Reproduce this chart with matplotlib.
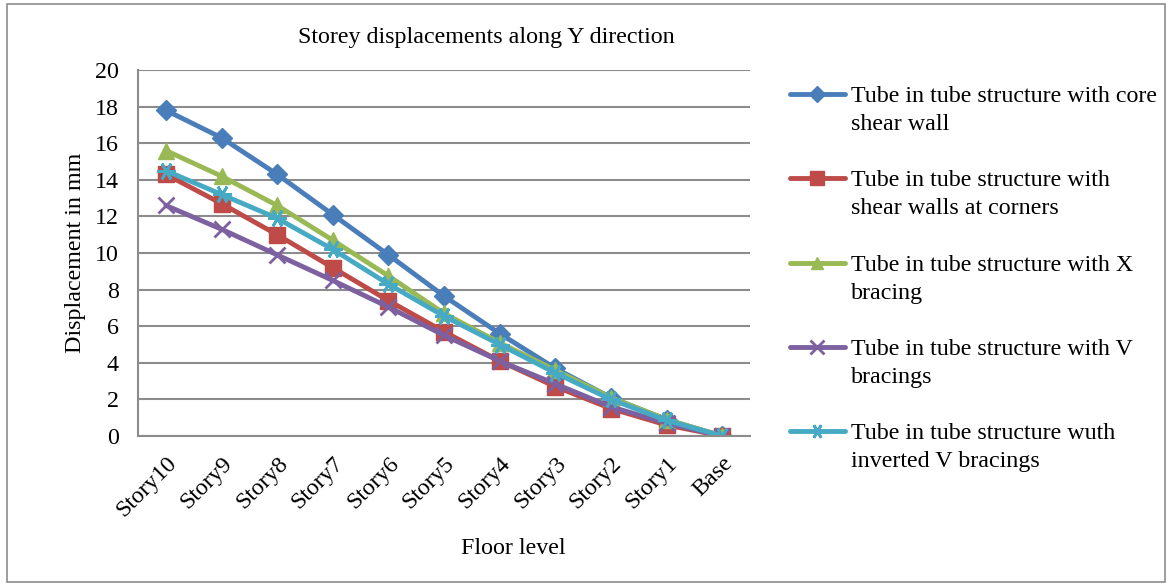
import matplotlib
matplotlib.use("Agg")
import matplotlib.pyplot as plt
from matplotlib.lines import Line2D
from matplotlib.patches import Rectangle

# --- data ----------------------------------------------------------------------------------------
floors = ["Story10", "Story9", "Story8", "Story7", "Story6", "Story5",
          "Story4", "Story3", "Story2", "Story1", "Base"]

core_wall    = [17.8, 16.3, 14.3, 12.1, 9.9, 7.65, 5.6, 3.7, 2.1, 0.9, 0.0]
corner_walls = [14.3, 12.7, 11.0, 9.2, 7.4, 5.7, 4.1, 2.7, 1.5, 0.6, 0.0]
x_bracing    = [15.6, 14.2, 12.6, 10.7, 8.75, 6.7, 5.1, 3.6, 2.1, 0.9, 0.0]
v_bracing    = [12.6, 11.3, 9.9, 8.5, 7.05, 5.5, 4.1, 2.85, 1.6, 0.7, 0.0]
inv_v_brac   = [14.5, 13.2, 11.9, 10.2, 8.3, 6.55, 5.0, 3.45, 2.0, 0.85, 0.0]

labels = ["Tube in tube structure with core\nshear wall",
          "Tube in tube structure with\nshear walls at corners",
          "Tube in tube structure with X\nbracing",
          "Tube in tube structure with V\nbracings",
          "Tube in tube structure wuth\ninverted V bracings"]

series  = [core_wall, corner_walls, x_bracing, v_bracing, inv_v_brac]
colors  = ["#4A7EBB", "#BE4B48", "#98B954", "#7D60A0", "#46AAC5"]
markers = ["D", "s", "^", "x", (6, 2, 90)]
msizes  = [10, 12, 11, 12, 13]

plt.rcParams["font.family"] = ["Liberation Serif", "DejaVu Serif"]
FS = 17.3

fig = plt.figure(figsize=(11.68, 5.84), dpi=100)
ax = fig.add_axes([0.1182, 0.2534, 0.6421 - 0.1182, 0.8801 - 0.2534])

xs = list(range(len(floors)))
for y, c, m, ms in zip(series, colors, markers, msizes):
    ax.plot(xs, y, color=c, lw=3.5, marker=m, markersize=ms,
            markeredgewidth=2 if m in ("x", (6, 2, 90)) else 1, markeredgecolor=c,
            solid_capstyle="round", solid_joinstyle="round")

ax.set_xlim(-0.5, len(floors) - 0.5)
ax.set_ylim(0, 20)
ax.set_yticks(range(0, 21, 2))
ax.set_xticks(xs)
ax.set_xticklabels(floors, rotation=45, ha="right", rotation_mode="anchor")
ax.tick_params(axis="both", length=0, labelsize=FS)
ax.tick_params(axis="y", pad=14)
ax.tick_params(axis="x", pad=12)
ax.grid(axis="y", color="#8c8c8c", lw=1.5)
ax.set_axisbelow(True)
for side in ("top", "right"):
    ax.spines[side].set_visible(False)
for side in ("left", "bottom"):
    ax.spines[side].set_color("#8c8c8c")
    ax.spines[side].set_linewidth(1.5)

fig.text(486 / 1168, 1 - 37 / 584, "Storey displacements along Y direction",
         ha="center", va="center", fontsize=FS)
fig.text(75 / 1168, 1 - 253 / 584, "Displacement in mm", rotation=90,
         ha="center", va="center", fontsize=FS)
fig.text(513 / 1168, 1 - 548 / 584, "Floor level", ha="center", va="center", fontsize=FS)

# legend drawn by hand so the handle sits on the first text line (as in Excel)
W, H = 1168.0, 584.0
for i, (lab, c, m, ms) in enumerate(zip(labels, colors, markers, msizes)):
    yp = 94 + i * 84.3
    yf = 1 - yp / H
    fig.add_artist(Line2D([790 / W, 845 / W], [yf, yf], color=c, lw=3.5,
                          solid_capstyle="round", transform=fig.transFigure))
    fig.add_artist(Line2D([817 / W], [yf], color=c, marker=m, markersize=ms * 0.8,
                          markeredgecolor=c, markeredgewidth=2 if m in ("x", (6, 2, 90)) else 1,
                          transform=fig.transFigure))
    fig.text(851 / W, 1 - (yp - 8) / H, lab, ha="left", va="top",
             fontsize=FS, linespacing=1.45)

# outer chart frame
fig.add_artist(Rectangle((7 / W, 2 / H), 1158 / W, 578 / H, fill=False,
                         edgecolor="#8c8c8c", lw=1.2, transform=fig.transFigure))

fig.savefig("out.png", dpi=100)
